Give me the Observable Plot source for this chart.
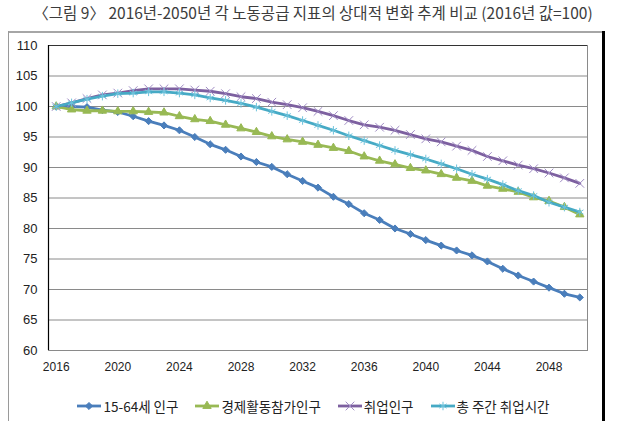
<!DOCTYPE html>
<html><head><meta charset="utf-8">
<script src="https://cdn.jsdelivr.net/npm/d3@7"></script>
<script src="https://cdn.jsdelivr.net/npm/@observablehq/plot@0.6"></script>
<style>
body{margin:0;background:#fff;width:626px;height:427px;position:relative;overflow:hidden;font-family:"Noto Sans CJK KR","Noto Sans",sans-serif;}
#title{position:absolute;left:0;top:0;width:626px;height:28px;text-align:center;line-height:25px;font-size:15.5px;color:#3c3c3c;white-space:nowrap;}
#chart{position:absolute;left:0;top:31px;}
.bd{position:absolute;}
#legend{position:absolute;left:0;top:394px;width:626px;height:24px;display:flex;justify-content:center;align-items:center;font-size:13.5px;color:#222;}
.item{display:flex;align-items:center;margin:0 8px;}
.item svg{margin-right:1px;}
</style></head>
<body>
<div id="title">〈그림 9〉 2016년-2050년 각 노동공급 지표의 상대적 변화 추계 비교 (2016년 값=100)</div>
<div class="bd" style="left:8px;top:31px;width:597px;height:2px;background:#a6a6a6"></div>
<div class="bd" style="left:8px;top:31px;width:1px;height:390px;background:#9a9a9a"></div>
<div class="bd" style="left:602px;top:31px;width:3px;height:390px;background:#000"></div>
<div id="chart"></div>
<div id="legend"></div>
<script>
const years = [2016,2017,2018,2019,2020,2021,2022,2023,2024,2025,2026,2027,2028,2029,2030,2031,2032,2033,2034,2035,2036,2037,2038,2039,2040,2041,2042,2043,2044,2045,2046,2047,2048,2049,2050];
const xTicks = [2016,2020,2024,2028,2032,2036,2040,2044,2048];
const yTicks = [60,65,70,75,80,85,90,95,100,105,110];
const seriesNames = ["15-64세 인구","경제활동참가인구","취업인구","총 주간 취업시간"];
const pop1564 = [100,100,99.9,99.4,99.1,98.4,97.6,96.9,96.1,95.0,93.8,92.9,91.8,90.9,90.1,88.9,87.8,86.7,85.2,84.0,82.5,81.4,80.0,79.1,78.1,77.2,76.4,75.6,74.6,73.4,72.3,71.3,70.3,69.3,68.7];
const laborForce = [100,99.5,99.3,99.3,99.2,99.2,99.1,99.0,98.4,97.9,97.6,97.0,96.4,95.8,95.1,94.6,94.2,93.7,93.2,92.7,91.8,91.1,90.5,89.9,89.5,88.9,88.3,87.8,87.0,86.5,86.0,85.1,84.5,83.5,82.3];
const employed = [100,100.6,101.3,101.9,102.2,102.6,102.9,102.9,102.9,102.7,102.5,102.1,101.6,101.3,100.7,100.3,99.8,99.2,98.5,97.7,97.0,96.6,96.1,95.4,94.7,94.2,93.5,92.8,91.8,91.1,90.4,89.8,89.1,88.3,87.4];
const weeklyHours = [100,100.6,101.2,101.7,102.1,102.2,102.4,102.4,102.2,101.9,101.4,101.0,100.5,99.9,99.2,98.5,97.7,96.9,96.1,95.2,94.4,93.6,92.8,92.1,91.4,90.6,89.8,88.9,88.1,87.2,86.2,85.4,84.3,83.5,82.7];

const styles = [
  {color:"#4a7ebb", symbol:"diamond2", filled:true, r:3.2, mstroke:1},
  {color:"#98b954", symbol:"triangle", filled:true, r:3.1, mstroke:1},
  {color:"#7d60a0", symbol:"times", filled:false, r:4.0, mstroke:1, mcolor:"#a08cc4"},
  {color:"#46aac5", symbol:"asterisk", filled:false, r:4.0, mstroke:1, mcolor:"#6ec3dc"}
];
const valuesList = [pop1564, laborForce, employed, weeklyHours];
const seriesData = seriesNames.map((name, k) => years.map((year, i) => ({series:name, year, value:valuesList[k][i]})));

const marks = [
  Plot.ruleY(yTicks.slice(1, -1), {stroke:"#8a8a8a", strokeWidth:1}),
  Plot.frame({stroke:"#8a8a8a"}),
  Plot.ruleY([110], {stroke:"#333"}),
  Plot.ruleX([2015.5], {stroke:"#000", strokeWidth:1.2}),
  Plot.axisY(yTicks, {tickSize:0, tickPadding:11, fontSize:13, label:null, tickFormat:d=>String(d)}),
  Plot.axisX(xTicks, {tickSize:0, tickPadding:12, fontSize:12, label:null, tickFormat:d=>String(d)})
];
seriesData.forEach((data, k) => {
  const s = styles[k];
  marks.push(Plot.line(data, {x:"year", y:"value", stroke:s.color, strokeWidth:2.8}));
  marks.push(Plot.dot(data, {x:"year", y:"value", symbol:()=>s.symbol, r:s.r,
    fill: s.filled ? s.color : "none", stroke: s.mcolor || s.color, strokeWidth:s.mstroke}));
});

const chart = Plot.plot({
  width:626, height:354,
  marginLeft:48, marginRight:39, marginTop:14, marginBottom:35,
  style:{fontFamily:"'Liberation Sans', Arial, sans-serif", color:"#222", background:"transparent"},
  x:{domain:[2015.5,2050.5]},
  y:{domain:[60,110]},
  symbol:{type:"identity"},
  marks
});
document.getElementById("chart").appendChild(chart);

const legend = document.getElementById("legend");
seriesNames.forEach((name, k) => {
  const s = styles[k];
  const item = document.createElement("div");
  item.className = "item";
  const svg = d3.create("svg").attr("width", 26).attr("height", 12);
  svg.append("line").attr("x1",1).attr("x2",25).attr("y1",6).attr("y2",6).attr("stroke",s.color).attr("stroke-width",2.8);
  const symMap = {diamond2:d3.symbolDiamond2, triangle:d3.symbolTriangle, times:d3.symbolTimes, asterisk:d3.symbolAsterisk};
  svg.append("path").attr("transform","translate(13,6)").attr("d", d3.symbol(symMap[s.symbol], s.r*s.r*Math.PI)())
    .attr("fill", s.filled ? s.color : "none").attr("stroke", s.mcolor || s.color).attr("stroke-width", s.mstroke);
  item.appendChild(svg.node());
  const span = document.createElement("span");
  span.textContent = name;
  item.appendChild(span);
  legend.appendChild(item);
});
</script>
</body></html>
